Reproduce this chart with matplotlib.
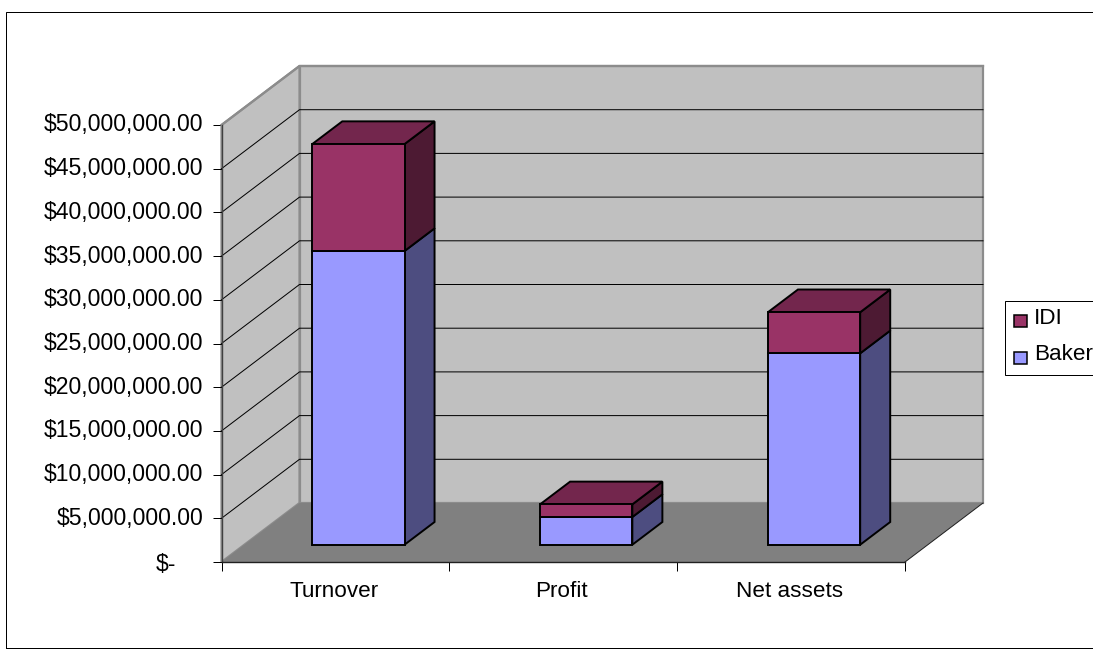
import matplotlib
matplotlib.use("Agg")
import matplotlib.pyplot as plt
from matplotlib.patches import Polygon, Rectangle
from matplotlib.transforms import ScaledTranslation

# ---- data (millions of dollars) ----
categories = ["Turnover", "Profit", "Net assets"]
baker = [33.6, 3.17, 21.9]
idi = [12.24, 1.45, 4.7]
y_ticks = [0, 5, 10, 15, 20, 25, 30, 35, 40, 45, 50]
y_labels = ["$-", "$5,000,000.00", "$10,000,000.00", "$15,000,000.00",
            "$20,000,000.00", "$25,000,000.00", "$30,000,000.00",
            "$35,000,000.00", "$40,000,000.00", "$45,000,000.00",
            "$50,000,000.00"]
series_names = ["IDI", "Baker"]

# ---- style ----
W, H = 1093, 655
WALL = "#C0C0C0"; FLOOR = "#808080"; EDGE = "#8C8C8C"
BAKER = ("#9999FF", "#4D4D80")          # front, side
IDI = ("#993366", "#4D1A33", "#73264D")  # front, side, top
plt.rcParams["font.family"] = ["Liberation Sans", "DejaVu Sans"]
FS_Y = 16.6
FS_X = 16.2
LW = 0.72

fig = plt.figure(figsize=(W / 100, H / 100), dpi=100, facecolor="white")
fig.patches.append(Rectangle((5.5 / W, 1 - 647.5 / H), 1.2, 636 / H, transform=fig.transFigure,
                             fc="none", ec="black", lw=LW))

# front plane of the 3-D box = the real axes
L, R, T, B = 221.5, 905, 125, 562
ax = fig.add_axes([L / W, 1 - B / H, (R - L) / W, (B - T) / H])
ax.set_xlim(0, 3)
ax.set_ylim(0, 50)
ax.patch.set_visible(False)

# depth vector: full depth of the box in data units
DX = 78 / ((R - L) / 3)
DY = 59 / ((B - T) / 50)
BAR_LEFT, BAR_W = 0.298, 0.405
D0, D1 = 0.293, 0.678   # depth range occupied by the bars


def P(x, v, d=0.0):
    return (x + d * DX, v + d * DY)


def poly(points, fc, ec="black", lw=1.4, z=3):
    ax.add_patch(Polygon(points, closed=True, fc=fc, ec=ec, lw=lw, zorder=z,
                         clip_on=False, joinstyle="miter"))


# walls and floor
poly([P(0, 0, 1), P(3, 0, 1), P(3, 50, 1), P(0, 50, 1)], WALL, EDGE, 1.6, 1)
poly([P(0, 0), P(0, 0, 1), P(0, 50, 1), P(0, 50)], WALL, EDGE, 1.6, 1)
poly([P(0, 0), P(3, 0), P(3, 0, 1), P(0, 0, 1)], FLOOR, "none", 0, 1.5)
ax.plot(*zip(P(3, 0), P(3, 0, 1)), color="#202020", lw=LW, zorder=1.6, clip_on=False)
ax.plot(*zip(P(0, 50), P(0, 50, 1), P(3, 50, 1)), color=EDGE, lw=1.6, zorder=1.6, clip_on=False)

# gridlines on both walls
for v in y_ticks[1:-1]:
    ax.plot(*zip(P(0, v), P(0, v, 1), P(3, v, 1)), color="black", lw=LW, zorder=2, clip_on=False)

# stacked bars
for i in range(len(categories)):
    x0, x1 = i + BAR_LEFT, i + BAR_LEFT + BAR_W
    v0 = 0.0
    for val, cols in ((baker[i], BAKER), (idi[i], IDI)):
        v1 = v0 + val
        poly([P(x1, v0, D0), P(x1, v0, D1), P(x1, v1, D1), P(x1, v1, D0)], cols[1], z=3)
        poly([P(x0, v0, D0), P(x1, v0, D0), P(x1, v1, D0), P(x0, v1, D0)], cols[0], z=4)
        v0 = v1
    poly([P(x0, v0, D0), P(x1, v0, D0), P(x1, v0, D1), P(x0, v0, D1)], IDI[2], z=3)

# axes furniture
ax.spines["top"].set_visible(False)
ax.spines["right"].set_visible(False)
ax.spines["left"].set_color("#404040")
ax.spines["left"].set_linewidth(1.0)
ax.spines["bottom"].set_color("#202020")
ax.spines["bottom"].set_linewidth(1.0)
ax.spines["left"].set_zorder(2.5)
ax.spines["bottom"].set_zorder(2.5)
ax.set_yticks(y_ticks)
ax.set_yticklabels(y_labels, fontsize=FS_Y)
ax.tick_params(axis="y", length=6.5, width=LW, pad=6.5, colors="black")
ax.yaxis.get_major_ticks()[0].set_pad(26)
up = ScaledTranslation(0, 2.5 / 100, fig.dpi_scale_trans)
for lab in ax.get_yticklabels()[1:]:
    lab.set_transform(lab.get_transform() + up)
ax.set_xticks([0, 1, 2, 3])
ax.set_xticklabels([])
ax.set_xticks([i + 0.493 for i in range(3)], minor=True)
ax.set_xticklabels(categories, minor=True, fontsize=FS_X)
ax.tick_params(axis="x", which="major", length=6.5, width=LW)
ax.tick_params(axis="x", which="minor", length=0, pad=14)

# legend (runs off the right edge of the image, as in the source)
fig.patches.append(Rectangle((1004.5 / W, 1 - 374.5 / H), 200 / W, 74 / H, transform=fig.transFigure,
                             fc="white", ec="black", lw=LW))
for y, name, col in zip((318, 355), series_names, (IDI[0], BAKER[0])):
    fig.patches.append(Rectangle((1013.5 / W, 1 - (y + 9) / H), 13 / W, 12 / H,
                                 transform=fig.transFigure, fc=col, ec="black", lw=1.1))
    fig.text(1034 / W, 1 - y / H, name, fontsize=FS_X, va="center", ha="left")

fig.savefig("out.png", dpi=100)
